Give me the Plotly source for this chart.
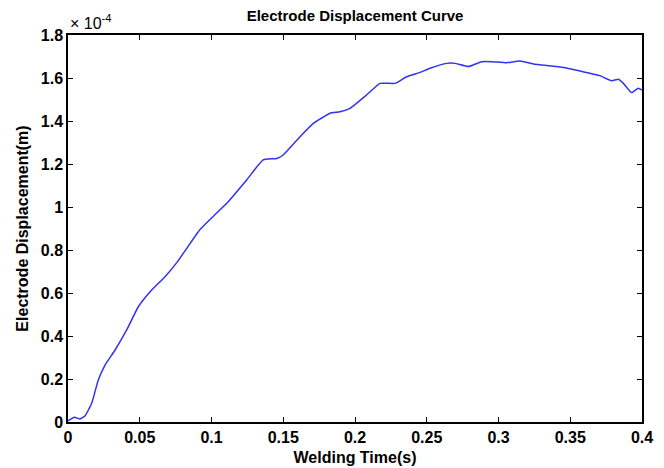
import plotly.graph_objects as go

# Welding time (s)
time_s = [0.0, 0.0044, 0.0084, 0.0118, 0.0165, 0.0211, 0.0258, 0.0328, 0.0409, 0.049,
          0.0583, 0.0676, 0.0762, 0.0830, 0.092, 0.101, 0.1106, 0.1245, 0.136, 0.1454,
          0.150, 0.1617, 0.171, 0.1826, 0.1895, 0.1965, 0.208, 0.2174, 0.2279, 0.236,
          0.2453, 0.2523, 0.2639, 0.2697, 0.279, 0.2883, 0.2953, 0.3057, 0.315, 0.3243,
          0.3405, 0.3521, 0.3638, 0.3707, 0.3789, 0.3835, 0.387, 0.3928, 0.3974, 0.4]
# Electrode displacement (x 1e-4 m)
disp_e4 = [0.005, 0.022, 0.014, 0.028, 0.087, 0.195, 0.265, 0.335, 0.428, 0.536,
           0.614, 0.676, 0.745, 0.81, 0.895, 0.955, 1.017, 1.126, 1.219, 1.226,
           1.242, 1.327, 1.389, 1.436, 1.443, 1.459, 1.521, 1.575, 1.575, 1.606,
           1.626, 1.645, 1.668, 1.668, 1.653, 1.676, 1.676, 1.671, 1.679, 1.665,
           1.653, 1.640, 1.622, 1.611, 1.587, 1.594, 1.575, 1.532, 1.552, 1.544]

x_tickvals = [0, 0.05, 0.1, 0.15, 0.2, 0.25, 0.3, 0.35, 0.4]
x_ticktext = ["0", "0.05", "0.1", "0.15", "0.2", "0.25", "0.3", "0.35", "0.4"]
y_tickvals = [0, 0.2, 0.4, 0.6, 0.8, 1.0, 1.2, 1.4, 1.6, 1.8]
y_ticktext = ["0", "0.2", "0.4", "0.6", "0.8", "1", "1.2", "1.4", "1.6", "1.8"]

FONT = "Liberation Sans, Arial, Helvetica, sans-serif"

fig = go.Figure()
fig.add_trace(go.Scatter(x=time_s, y=disp_e4, mode="lines",
                         line=dict(color="rgb(50,50,245)", width=1.5, shape="spline", smoothing=0.4),
                         showlegend=False))

axis_common = dict(showline=True, linecolor="black", linewidth=1.5, mirror="ticks",
                   ticks="inside", ticklen=5, tickcolor="black", tickwidth=1,
                   showgrid=False, zeroline=False, automargin=False,
                   tickfont=dict(family=FONT, size=16, color="black", weight="bold"))

fig.update_layout(
    width=664, height=468,
    margin=dict(l=68, r=22, t=35, b=46, autoexpand=False),
    paper_bgcolor="white", plot_bgcolor="white",
    title=dict(text="<b>Electrode Displacement Curve</b>", x=0.5347, xanchor="center",
               y=1 - 16 / 468, yanchor="middle",
               font=dict(family=FONT, size=15, color="black")),
    xaxis=dict(range=[0, 0.4], tickvals=x_tickvals, ticktext=x_ticktext,
               title=dict(text="<b>Welding Time(s)</b>", standoff=7,
                          font=dict(family=FONT, size=16, color="black")),
               **axis_common),
    yaxis=dict(range=[0, 1.8], tickvals=y_tickvals, ticktext=y_ticktext,
               title=dict(text="<b>Electrode Displacement(m)</b>", standoff=8,
                          font=dict(family=FONT, size=16, color="black")),
               **axis_common),
)

fig.add_annotation(text="× 10<sup>-4</sup>", xref="paper", yref="paper", x=0, y=1,
                   xanchor="left", yanchor="bottom", yshift=1, showarrow=False,
                   font=dict(family=FONT, size=16, color="black"))

fig.write_html("out.html")
